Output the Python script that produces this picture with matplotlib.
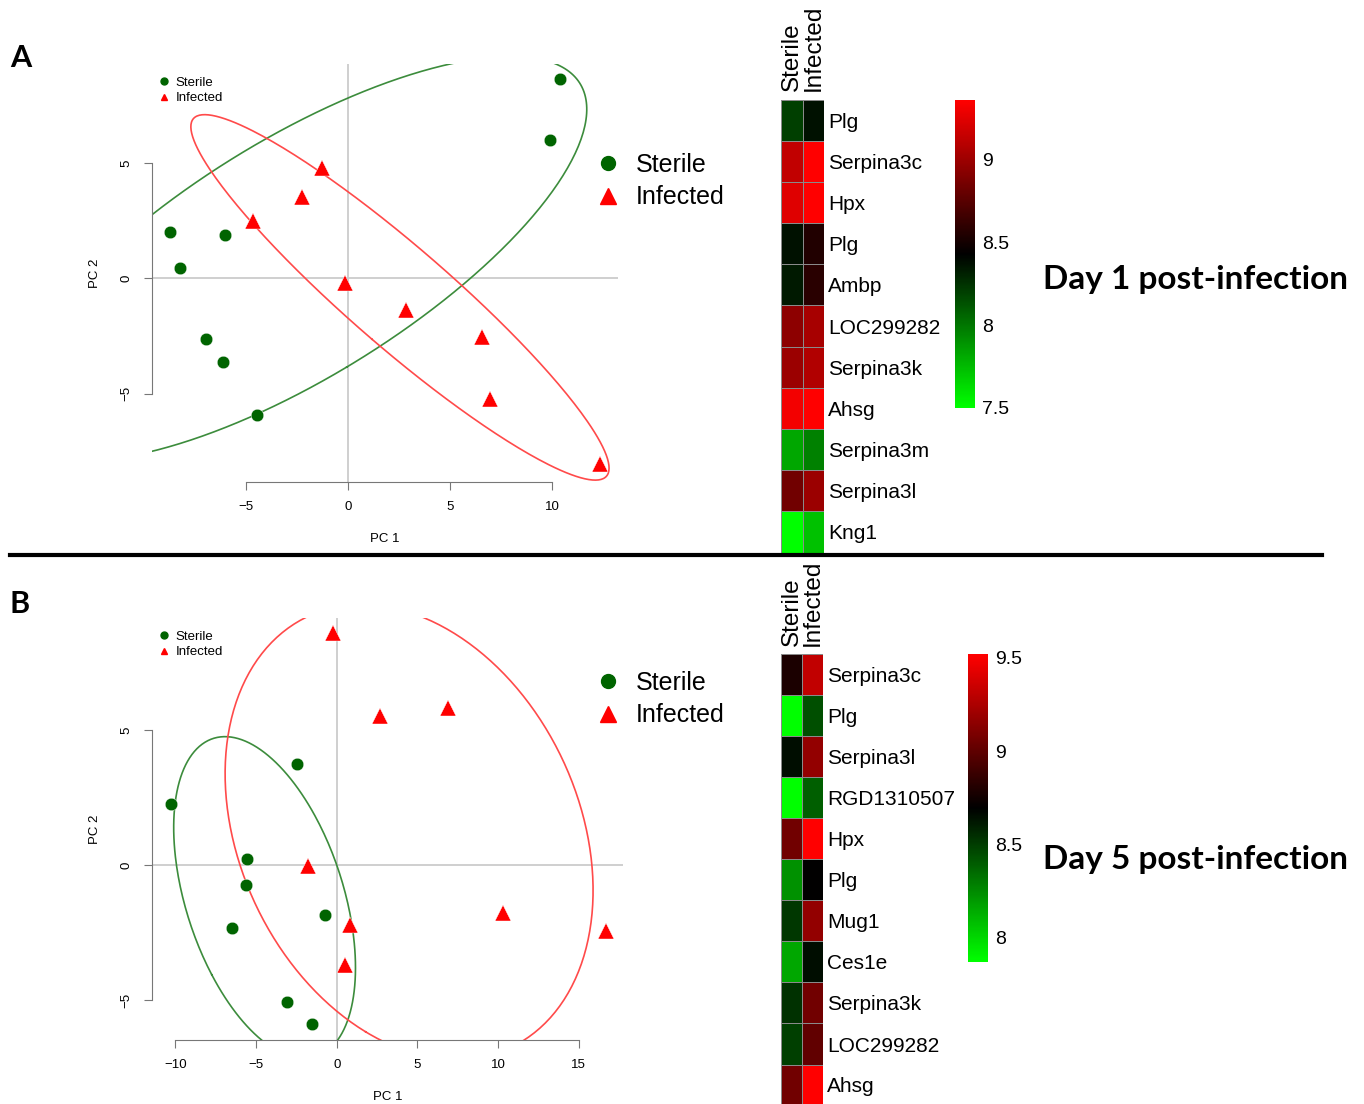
import numpy as np
import matplotlib
matplotlib.use('Agg')
import matplotlib.pyplot as plt
from matplotlib.colors import LinearSegmentedColormap, Normalize
from matplotlib.lines import Line2D
from matplotlib.cm import ScalarMappable

plt.rcParams['font.family'] = ['Liberation Sans', 'DejaVu Sans']

# PCA scores, day 1
d1_sterile_x = [10.39, 9.90, -8.73, -6.03, -8.24, -6.96, -6.13, -4.46]
d1_sterile_y = [8.61, 6.00, 2.00, 1.87, 0.43, -2.61, -3.61, -5.91]
d1_infected_x = [-1.27, -2.25, -4.66, -0.15, 2.84, 6.57, 6.96, 12.35]
d1_infected_y = [4.78, 3.52, 2.48, -0.22, -1.39, -2.52, -5.22, -8.04]

# PCA scores, day 5
d5_sterile_x = [-2.48, -10.27, -5.56, -5.64, -0.73, -6.51, -3.06, -1.51]
d5_sterile_y = [3.76, 2.27, 0.23, -0.73, -1.85, -2.31, -5.07, -5.88]
d5_infected_x = [-0.23, 2.68, 6.90, -1.78, 10.31, 0.82, 16.70, 0.51]
d5_infected_y = [8.62, 5.54, 5.84, -0.03, -1.77, -2.21, -2.44, -3.70]

# heatmap values (mean expression)
d1_genes = ['Plg', 'Serpina3c', 'Hpx', 'Plg', 'Ambp', 'LOC299282',
            'Serpina3k', 'Ahsg', 'Serpina3m', 'Serpina3l', 'Kng1']
d1_sterile = [8.20, 9.13, 9.24, 8.37, 8.34, 8.94, 8.99, 9.31, 7.82, 8.84, 7.50]
d1_infected = [8.37, 9.36, 9.36, 8.55, 8.58, 9.04, 9.07, 9.36, 7.96, 8.99, 7.73]
d1_range = (7.5, 9.36)
d1_ticks = [7.5, 8, 8.5, 9]

d5_genes = ['Serpina3c', 'Plg', 'Serpina3l', 'RGD1310507', 'Hpx', 'Plg',
            'Mug1', 'Ces1e', 'Serpina3k', 'LOC299282', 'Ahsg']
d5_sterile = [8.78, 7.87, 8.65, 7.87, 9.06, 8.23, 8.52, 8.16, 8.54, 8.49, 9.06]
d5_infected = [9.32, 8.44, 9.17, 8.39, 9.52, 8.70, 9.17, 8.65, 9.06, 9.01, 9.52]
d5_range = (7.87, 9.52)
d5_ticks = [8, 8.5, 9, 9.5]

groups = ['Sterile', 'Infected']

W, H = 1364, 1104
fig = plt.figure(figsize=(W / 100, H / 100), dpi=100)

GREEN = '#006400'
RED = '#ff0000'
cmap = LinearSegmentedColormap.from_list('gbr', ['#00ff00', '#000000', '#ff0000'])


def px_axes(left, top, right, bottom):
    return fig.add_axes([left / W, 1 - bottom / H, (right - left) / W, (bottom - top) / H])


def ellipse(ax, xs, ys, color):
    pts = np.array([xs, ys])
    mu = pts.mean(axis=1)
    vals, vecs = np.linalg.eigh(np.cov(pts))
    r = np.sqrt(-2 * np.log(0.2))  # 80% normal ellipse
    t = np.linspace(0, 2 * np.pi, 300)
    circ = np.array([np.cos(t), np.sin(t)])
    e = mu[:, None] + r * vecs @ (np.sqrt(vals)[:, None] * circ)
    ax.plot(e[0], e[1], color=color, lw=1.2)


def pca_panel(box, xlim, ylim, xticks, yticks, sx, sy, ix, iy, leg_small, leg_big):
    ax = px_axes(*box)
    ax.axhline(0, color='#cccccc', lw=1.3, zorder=0)
    ax.axvline(0, color='#cccccc', lw=1.3, zorder=0)
    ellipse(ax, sx, sy, '#3c8c3c')
    ellipse(ax, ix, iy, '#ff4a4a')
    ax.plot(sx, sy, 'o', color=GREEN, ms=9, mec='white', mew=0.3)
    ax.plot(ix, iy, '^', color=RED, ms=11, mec='white', mew=0.3)
    ax.set_xlim(xlim)
    ax.set_ylim(ylim)
    for s in ['top', 'right']:
        ax.spines[s].set_visible(False)
    ax.spines['left'].set_bounds(yticks[0], yticks[-1])
    ax.spines['bottom'].set_bounds(xticks[0], xticks[-1])
    ax.spines['left'].set_color('#777777')
    ax.spines['bottom'].set_color('#777777')
    ax.set_xticks(xticks)
    ax.set_yticks(yticks)
    ax.set_xticklabels([str(v).replace('-', '\u2212') for v in xticks])
    ax.set_yticklabels([str(v).replace('-', '\u2212') for v in yticks],
                       rotation=90, va='center')
    ax.tick_params(length=6, color='#777777', labelsize=9.5, pad=8)
    ax.set_xlabel('PC 1', fontsize=9.5, labelpad=14)
    ax.set_ylabel('PC 2', fontsize=9.5, labelpad=14)

    h = [Line2D([], [], marker='o', color=GREEN, ls=''),
         Line2D([], [], marker='^', color=RED, ls='')]
    for hh in h:
        hh.set_markersize(5)
    ax.legend(h, groups, loc='upper left', bbox_to_anchor=(leg_small[0] / W, 1 - leg_small[1] / H),
              bbox_transform=fig.transFigure, frameon=False, fontsize=9.5,
              handlelength=0.8, handletextpad=0.5, labelspacing=0.25, borderpad=0)
    hb = [Line2D([], [], marker='o', color=GREEN, ls='', ms=10),
          Line2D([], [], marker='^', color=RED, ls='', ms=11)]
    fig.legend(hb, groups, loc='upper left', bbox_to_anchor=(leg_big[0] / W, 1 - leg_big[1] / H),
               frameon=False, fontsize=18, handlelength=1.0, handletextpad=0.6,
               labelspacing=0.35, borderpad=0)
    return ax


def heat_panel(box, cbox, genes, ster, inf, vrange, ticks):
    ax = px_axes(*box)
    norm = Normalize(*vrange)
    data = np.array([ster, inf]).T
    ax.pcolormesh(data, cmap=cmap, norm=norm, edgecolors='#8a8a8a', linewidth=0.5)
    ax.set_xlim(0, 2)
    ax.set_ylim(len(genes), 0)
    for s in ax.spines.values():
        s.set_visible(False)
    ax.yaxis.tick_right()
    ax.set_yticks(np.arange(len(genes)) + 0.5)
    ax.set_yticklabels(genes, fontsize=15)
    ax.xaxis.tick_top()
    ax.set_xticks([0.5, 1.5])
    ax.set_xticklabels(groups, rotation=90, fontsize=17.5)
    ax.tick_params(axis='y', length=0, pad=3)
    ax.tick_params(axis='x', length=0, pad=6)

    cax = px_axes(*cbox)
    cb = fig.colorbar(ScalarMappable(norm=norm, cmap=cmap), cax=cax, ticks=ticks)
    cb.outline.set_visible(False)
    cb.ax.set_yticklabels([('%g' % t) for t in ticks])
    cb.ax.tick_params(length=0, labelsize=14, pad=5)


pca_panel((152, 64, 618, 482), (-9.61, 13.24), (-8.82, 9.28), [-5, 0, 5, 10], [-5, 0, 5],
          d1_sterile_x, d1_sterile_y, d1_infected_x, d1_infected_y,
          (152, 70), (583, 140))
pca_panel((152, 618, 623, 1040), (-11.45, 17.75), (-6.48, 9.17), [-10, -5, 0, 5, 10, 15], [-5, 0, 5],
          d5_sterile_x, d5_sterile_y, d5_infected_x, d5_infected_y,
          (152, 624), (583, 658))

heat_panel((781, 99.5, 824, 552.5), (955, 100, 975, 408),
           d1_genes, d1_sterile, d1_infected, d1_range, d1_ticks)
heat_panel((781, 654.5, 823, 1105.5), (968, 654, 988, 962),
           d5_genes, d5_sterile, d5_infected, d5_range, d5_ticks)

fig.text(1043 / W, 1 - 280 / H, 'Day 1 post-infection', fontsize=24, fontweight='bold',
         family=['Lato', 'DejaVu Sans'], va='center', ha='left')
fig.text(1043 / W, 1 - 860 / H, 'Day 5 post-infection', fontsize=24, fontweight='bold',
         family=['Lato', 'DejaVu Sans'], va='center', ha='left')
fig.text(10 / W, 1 - 58 / H, 'A', fontsize=22, fontweight='bold',
         family=['Lato', 'DejaVu Sans'], va='center', ha='left')
fig.text(10 / W, 1 - 604 / H, 'B', fontsize=22, fontweight='bold',
         family=['Lato', 'DejaVu Sans'], va='center', ha='left')

fig.add_artist(Line2D([10 / W, 1322 / W], [1 - 555 / H, 1 - 555 / H], color='black', lw=3))

fig.savefig('out.png', dpi=100)
